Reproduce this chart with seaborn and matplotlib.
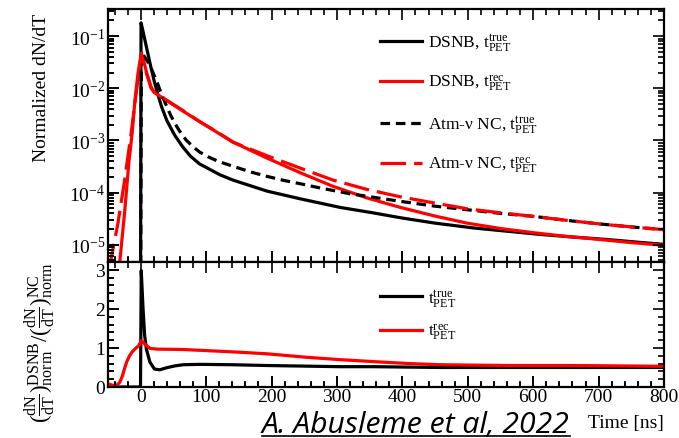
import numpy as np
import pandas as pd
import matplotlib
matplotlib.use("Agg")
import matplotlib.pyplot as plt
import matplotlib.transforms as mtransforms
from matplotlib.ticker import MultipleLocator, LogLocator, NullFormatter, LogFormatterMathtext
from matplotlib.lines import Line2D
import seaborn as sns

# ---------------- data ----------------
t_dsnb_true = [-50, -0.5, 0.5, 3, 6, 11, 16, 21, 26, 32, 40, 52, 64, 76, 90, 121, 141, 193,
               244, 305, 355, 397, 450, 509, 560, 611, 660, 714, 760, 800]
v_dsnb_true = [1e-8, 1e-8, 1.8e-1, 1.32e-1, 8.9e-2, 4.6e-2, 2.4e-2, 1.32e-2, 7.8e-3, 4.4e-3,
               2.4e-3, 1.26e-3, 7.6e-4, 5.0e-4, 3.55e-4, 2.2e-4, 1.74e-4, 1.07e-4,
               7.6e-5, 5.2e-5, 4.1e-5, 3.3e-5, 2.6e-5, 2.1e-5, 1.82e-5, 1.58e-5, 1.41e-5,
               1.26e-5, 1.12e-5, 1.02e-5]

t_dsnb_rec = [-40, -32, -24.5, -18, -13, -9, -4, 1, 5, 9, 16, 21, 39, 64, 90, 116, 141, 193,
              244, 294, 346, 397, 450, 499, 550, 601, 650, 703, 750, 800]
v_dsnb_rec = [1e-6, 4.7e-6, 4.3e-5, 3.9e-4, 1.4e-3, 5.5e-3, 2.0e-2, 4.7e-2, 3.2e-2, 2.0e-2,
              1.05e-2, 8.3e-3, 5.9e-3, 3.7e-3, 2.3e-3, 1.45e-3, 9.3e-4, 4.6e-4,
              2.4e-4, 1.32e-4, 7.9e-5, 5.2e-5, 3.55e-5, 2.6e-5, 2.05e-5, 1.7e-5, 1.45e-5,
              1.26e-5, 1.1e-5, 9.8e-6]

t_nc_true = [-50, -0.5, 1, 6, 11, 16, 24, 30, 37, 46, 55, 62, 70, 80, 90, 104, 118, 141, 170,
             193, 220, 244, 270, 294, 320, 346, 397, 450, 499, 550, 601, 650, 703, 750, 800]
v_nc_true = [1e-8, 1e-8, 4.7e-2, 4.0e-2, 3.2e-2, 2.4e-2, 1.41e-2, 8.9e-3, 5.4e-3, 3.0e-3,
             1.86e-3, 1.35e-3, 1.0e-3, 7.6e-4, 6.0e-4, 4.8e-4, 4.0e-4, 3.2e-4, 2.45e-4,
             2.05e-4, 1.7e-4, 1.48e-4, 1.26e-4, 1.1e-4, 9.5e-5, 8.5e-5, 6.8e-5, 5.5e-5,
             4.7e-5, 4.0e-5, 3.5e-5, 2.95e-5, 2.5e-5, 2.2e-5, 1.95e-5]

t_nc_rec = [-50, -45, -35, -25, -15, -8, -3, 1, 9, 16, 21, 39, 64, 90, 116, 141, 193, 244,
            294, 346, 397, 450, 499, 550, 601, 650, 703, 750, 800]
v_nc_rec = [3.5e-6, 5.6e-6, 2.5e-5, 1.6e-4, 1.26e-3, 6.3e-3, 2.0e-2, 4.5e-2, 1.9e-2, 1.0e-2,
            8.3e-3, 6.0e-3, 3.8e-3, 2.3e-3, 1.48e-3, 9.3e-4, 5.1e-4, 2.95e-4,
            1.74e-4, 1.15e-4, 8.3e-5, 6.3e-5, 4.9e-5, 4.1e-5, 3.5e-5, 2.95e-5, 2.5e-5,
            2.2e-5, 1.95e-5]

t_ratio_true = [-50, -0.3, 0.8, 3.6, 6, 8.7, 14, 21, 29, 39, 52, 65, 90, 141, 193, 305, 355,
                458, 561, 800]
r_ratio_true = [0, 0, 2.98, 2.0, 1.32, 0.97, 0.64, 0.46, 0.44, 0.49, 0.54, 0.57, 0.58, 0.57,
                0.55, 0.52, 0.52, 0.50, 0.50, 0.50]

t_ratio_rec = [-50, -42, -36, -32, -28, -25, -21, -17, -13, -9, -3, 1, 6, 14, 24, 65, 90, 152,
               193, 254, 305, 356, 410, 458, 561, 663, 800]
r_ratio_rec = [0.08, 0.04, 0.05, 0.12, 0.28, 0.46, 0.66, 0.80, 0.90, 0.97, 1.06, 1.19, 1.10,
               0.99, 0.97, 0.96, 0.94, 0.89, 0.85, 0.76, 0.70, 0.65, 0.60, 0.57, 0.55, 0.55,
               0.53]

labels_top = [r"DSNB, $\mathrm{t}_{\mathrm{PET}}^{\mathrm{true}}$",
              r"DSNB, $\mathrm{t}_{\mathrm{PET}}^{\mathrm{rec}}$",
              r"Atm-$\mathrm{\nu}$ NC, $\mathrm{t}_{\mathrm{PET}}^{\mathrm{true}}$",
              r"Atm-$\mathrm{\nu}$ NC, $\mathrm{t}_{\mathrm{PET}}^{\mathrm{rec}}$"]
labels_bottom = [r"$\mathrm{t}_{\mathrm{PET}}^{\mathrm{true}}$",
                 r"$\mathrm{t}_{\mathrm{PET}}^{\mathrm{rec}}$"]
x_ticks = [0, 100, 200, 300, 400, 500, 600, 700, 800]

# ---------------- style (ROOT-like, ticks on all sides pointing in) ----------------
plt.rcdefaults()
plt.rcParams.update({
    "font.family": ["Liberation Serif", "DejaVu Serif"],
    "mathtext.fontset": "custom",
    "mathtext.rm": "Liberation Serif",
    "mathtext.it": "Liberation Serif:italic",
    "mathtext.bf": "Liberation Serif:bold",
    "axes.linewidth": 1.6,
    "axes.edgecolor": "black",
    "axes.axisbelow": False,
    "axes.grid": False,
    "xtick.direction": "in",
    "ytick.direction": "in",
    "xtick.top": True,
    "xtick.bottom": True,
    "ytick.left": True,
    "ytick.right": True,
    "xtick.major.size": 8,
    "ytick.major.size": 8,
    "xtick.minor.size": 4,
    "ytick.minor.size": 4,
    "xtick.major.width": 1.2,
    "ytick.major.width": 1.2,
    "xtick.minor.width": 1.2,
    "ytick.minor.width": 1.2,
    "xtick.color": "black",
    "ytick.color": "black",
    "xtick.labelsize": 14,
    "ytick.labelsize": 14,
    "xtick.major.pad": 1,
    "ytick.major.pad": 2,
})

W, H = 679, 439
fig = plt.figure(figsize=(W / 100, H / 100), dpi=100)
fig.patch.set_facecolor("white")

def fx(px):
    return px / W

def fy(py):
    return 1 - py / H

ax1 = fig.add_axes([fx(108), fy(263), fx(664) - fx(108), fy(10) - fy(263)])
ax2 = fig.add_axes([fx(108), fy(388), fx(664) - fx(108), fy(263) - fy(388)])

LW = 2.3
ax1.set_yscale("log")
sns.lineplot(x=t_dsnb_true, y=v_dsnb_true, ax=ax1, color="black", lw=LW,
             estimator=None, sort=False, label=labels_top[0])
sns.lineplot(x=t_dsnb_rec, y=v_dsnb_rec, ax=ax1, color="#ff0000", lw=LW,
             estimator=None, sort=False, label=labels_top[1])
sns.lineplot(x=t_nc_true, y=v_nc_true, ax=ax1, color="black", lw=LW,
             linestyle=(0, (3, 1.8)), estimator=None, sort=False, label=labels_top[2])
sns.lineplot(x=t_nc_rec, y=v_nc_rec, ax=ax1, color="#ff0000", lw=LW,
             linestyle=(0, (8, 2.5)), estimator=None, sort=False, label=labels_top[3])

sns.lineplot(x=t_ratio_true, y=r_ratio_true, ax=ax2, color="black", lw=LW,
             estimator=None, sort=False, label=labels_bottom[0])
sns.lineplot(x=t_ratio_rec, y=r_ratio_rec, ax=ax2, color="#ff0000", lw=LW,
             estimator=None, sort=False, label=labels_bottom[1])

# ---------------- axes ----------------
ax1.set_xlim(-50, 800)
ax2.set_xlim(-50, 800)
ax1.set_ylim(10 ** -5.33, 10 ** -0.48)
ax2.set_ylim(0, 3.2)

ax1.yaxis.set_major_locator(LogLocator(base=10, numticks=10))
ax1.yaxis.set_minor_locator(LogLocator(base=10, subs=np.arange(2, 10), numticks=20))
ax1.yaxis.set_minor_formatter(NullFormatter())
ax1.yaxis.set_major_formatter(LogFormatterMathtext())
ax2.yaxis.set_major_locator(MultipleLocator(1))
ax2.yaxis.set_minor_locator(MultipleLocator(0.2))
ax2.set_xticks(x_ticks)
ax2.set_xticklabels([str(v) for v in x_ticks])

for ax in (ax1, ax2):
    ax.xaxis.set_major_locator(MultipleLocator(100))
    ax.xaxis.set_minor_locator(MultipleLocator(20))
    ax.set_facecolor("white")
    for s in ax.spines.values():
        s.set_linewidth(1.6)
        s.set_color("black")
        s.set_zorder(5)

ax1.tick_params(axis="x", labelbottom=False)

# reinforce the inward tick marks on the left and bottom edges, at the axis' own tick locations
def inner_ticks(ax, major_px=11, minor_px=5.5):
    h_px = ax.get_position().height * H
    w_px = ax.get_position().width * W
    x0, x1 = ax.get_xlim()
    y0, y1 = ax.get_ylim()
    tx = mtransforms.blended_transform_factory(ax.transData, ax.transAxes)
    ty = mtransforms.blended_transform_factory(ax.transAxes, ax.transData)
    for locs, px in ((ax.xaxis.get_majorticklocs(), major_px),
                     (ax.xaxis.get_minorticklocs(), minor_px)):
        locs = [v for v in locs if x0 <= v <= x1]
        ax.vlines(locs, 0, px / h_px, transform=tx, color="black", lw=1.2,
                  zorder=6, clip_on=False)
    for locs, px in ((ax.yaxis.get_majorticklocs(), major_px),
                     (ax.yaxis.get_minorticklocs(), minor_px)):
        lo, hi = min(y0, y1), max(y0, y1)
        locs = [v for v in locs if lo <= v <= hi]
        ax.hlines(locs, 0, px / w_px, transform=ty, color="black", lw=1.2,
                  zorder=6, clip_on=False)

inner_ticks(ax1)
inner_ticks(ax2)

ax1.set_xlabel("")
ax1.set_ylabel("Normalized dN/dT", fontsize=14, loc="top", color="black")
ax1.yaxis.set_label_coords(-0.105, 0.985)
ax2.set_ylabel(r"$(\frac{\mathrm{dN}}{\mathrm{dT}})^{\mathrm{DSNB}}_{\mathrm{norm}}"
               r"/(\frac{\mathrm{dN}}{\mathrm{dT}})^{\mathrm{NC}}_{\mathrm{norm}}$",
               fontsize=16.5, color="black")
ax2.yaxis.set_label_coords(-0.09, 0.36)
ax2.set_xlabel("Time [ns]", fontsize=14, loc="right", color="black")
ax2.xaxis.set_label_coords(1.0, -0.215)

leg1 = ax1.legend(loc="upper left", bbox_to_anchor=(0.489, 0.912), frameon=False,
                  fontsize=12.5, handlelength=2.4, handletextpad=0.4, labelspacing=1.15,
                  borderpad=0, borderaxespad=0)
leg2 = ax2.legend(loc="upper left", bbox_to_anchor=(0.489, 0.80), frameon=False,
                  fontsize=12.5, handlelength=2.4, handletextpad=0.4, labelspacing=0.75,
                  borderpad=0, borderaxespad=0)

# citation text, underlined, sized to the reference width
cit = fig.text(fx(416), fy(433), "A. Abusleme et al, 2022", fontsize=20, style="italic",
               family=["Open Sans", "DejaVu Sans"], ha="center", va="baseline",
               color="black")
fig.canvas.draw()
bb = cit.get_window_extent()
cit.set_fontsize(20 * 307.0 / bb.width)
fig.canvas.draw()
bb = cit.get_window_extent()
fig.add_artist(Line2D([bb.x0 / W, bb.x1 / W], [fy(436.5), fy(436.5)],
                      transform=fig.transFigure, color="black", lw=1.2))

fig.savefig("out.png", dpi=100)
